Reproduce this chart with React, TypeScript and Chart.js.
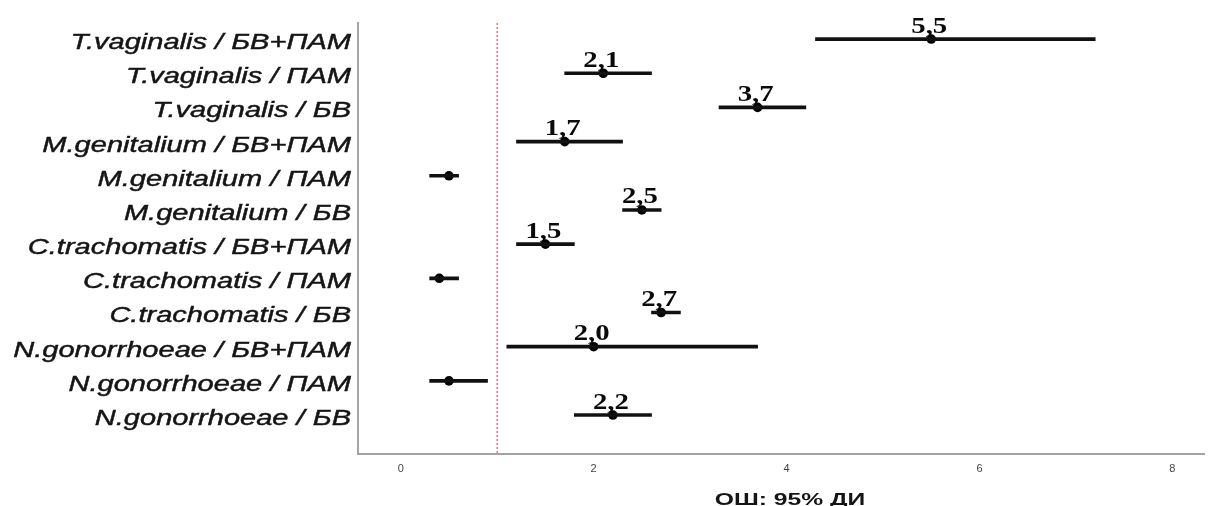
import React, { useEffect, useRef } from 'react';
import { Chart, registerables } from 'chart.js';

Chart.register(...registerables);

const categories = [
  'T.vaginalis / БВ+ПАМ',
  'T.vaginalis / ПАМ',
  'T.vaginalis / БВ',
  'M.genitalium / БВ+ПАМ',
  'M.genitalium / ПАМ',
  'M.genitalium / БВ',
  'C.trachomatis / БВ+ПАМ',
  'C.trachomatis / ПАМ',
  'C.trachomatis / БВ',
  'N.gonorrhoeae / БВ+ПАМ',
  'N.gonorrhoeae / ПАМ',
  'N.gonorrhoeae / БВ',
];
const oddsRatios = [5.5, 2.1, 3.7, 1.7, 0.5, 2.5, 1.5, 0.4, 2.7, 2.0, 0.5, 2.2];
const ciLow = [4.3, 1.7, 3.3, 1.2, 0.3, 2.3, 1.2, 0.3, 2.6, 1.1, 0.3, 1.8];
const ciHigh = [7.2, 2.6, 4.2, 2.3, 0.6, 2.7, 1.8, 0.6, 2.9, 3.7, 0.9, 2.6];
const valueLabels = ['5,5', '2,1', '3,7', '1,7', '', '2,5', '1,5', '', '2,7', '2,0', '', '2,2'];
const xTicks = [0, 2, 4, 6, 8];
const referenceLine = 1;
const axisTitle = 'ОШ: 95% ДИ';

const forestPlugin = {
  id: 'forestDecor',
  beforeDatasetsDraw(chart: any) {
    const { ctx, chartArea, scales } = chart;
    const x = scales.x.getPixelForValue(referenceLine);
    ctx.save();
    ctx.strokeStyle = 'rgb(248, 88, 102)';
    ctx.lineWidth = 1.3;
    ctx.setLineDash([2, 2]);
    ctx.beginPath();
    ctx.moveTo(x, chartArea.top);
    ctx.lineTo(x, chartArea.bottom);
    ctx.stroke();
    ctx.restore();
  },
  afterDatasetsDraw(chart: any) {
    const { ctx, scales } = chart;
    ctx.save();
    ctx.fillStyle = '#0a0a0a';
    ctx.font = 'bold 23px "Liberation Serif", "Times New Roman", serif';
    ctx.textAlign = 'center';
    ctx.textBaseline = 'alphabetic';
    valueLabels.forEach((lab, i) => {
      if (!lab) return;
      const px = scales.x.getPixelForValue(oddsRatios[i]);
      const py = scales.y.getPixelForValue(i);
      ctx.save();
      ctx.translate(px - 2, py - 6.5);
      ctx.scale(1.25, 1);
      ctx.fillText(lab, 0, 0);
      ctx.restore();
    });
    ctx.restore();
  },
  afterDraw(chart: any) {
    const { ctx, scales } = chart;
    ctx.save();
    ctx.fillStyle = '#151515';
    ctx.strokeStyle = '#151515';
    ctx.lineWidth = 0.45;
    ctx.font = 'italic 22px "Liberation Sans", Arial, sans-serif';
    ctx.textAlign = 'right';
    ctx.textBaseline = 'alphabetic';
    const rightX = scales.y.right - 7;
    categories.forEach((lab, i) => {
      const py = scales.y.getPixelForValue(i);
      ctx.save();
      ctx.translate(rightX, py + 10);
      ctx.scale(1.32, 1);
      ctx.fillText(lab, 0, 0);
      ctx.strokeText(lab, 0, 0);
      ctx.restore();
    });
    ctx.fillStyle = '#151515';
    ctx.font = 'bold 17px "Liberation Sans", Arial, sans-serif';
    ctx.textAlign = 'center';
    ctx.save();
    ctx.translate(790, 505);
    ctx.scale(1.45, 1);
    ctx.fillText(axisTitle, 0, 0);
    ctx.restore();
    ctx.restore();
  },
};

export default function App() {
  const canvasRef = useRef<HTMLCanvasElement | null>(null);

  useEffect(() => {
    const canvas = canvasRef.current;
    if (!canvas) return;
    const chart = new Chart(canvas, {
      type: 'scatter',
      data: {
        datasets: [
          {
            type: 'bar',
            indexAxis: 'y',
            data: categories.map((_, i) => ({ x: [ciLow[i], ciHigh[i]], y: i })) as any,
            backgroundColor: '#111',
            borderWidth: 0,
            barThickness: 3,
            grouped: false,
          } as any,
          {
            type: 'scatter',
            data: categories.map((_, i) => ({ x: oddsRatios[i], y: i })),
            backgroundColor: '#000',
            borderColor: '#000',
            pointRadius: 4.8,
            pointBorderWidth: 0,
          } as any,
        ],
      },
      options: {
        animation: false,
        responsive: false,
        maintainAspectRatio: false,
        layout: { padding: { top: 23, left: 0, right: 0, bottom: 0 } },
        plugins: {
          legend: { display: false },
          tooltip: { enabled: false },
        },
        scales: {
          x: {
            type: 'linear',
            min: -0.443,
            max: 8.33,
            offset: false,
            grid: { display: false, drawTicks: false },
            border: { display: true, color: '#a3a3a3', width: 2 },
            afterBuildTicks: (scale: any) => {
              scale.ticks = xTicks.map((v) => ({ value: v }));
            },
            afterFit: (scale: any) => {
              scale.height = 52;
            },
            ticks: {
              color: '#444',
              padding: 8,
              font: { family: '"Liberation Sans", Arial, sans-serif', size: 11 },
              callback: (v: any) => String(v),
            },
          },
          y: {
            type: 'linear',
            reverse: true,
            min: -0.47,
            max: 12.14,
            offset: false,
            grid: { display: false, drawTicks: false },
            border: { display: true, color: '#a3a3a3', width: 2 },
            ticks: { display: false },
            afterFit: (scale: any) => {
              scale.width = 358;
            },
          },
        },
      } as any,
      plugins: [forestPlugin],
    });
    return () => chart.destroy();
  }, []);

  return (
    <div style={{ position: 'fixed', left: 0, top: 0, width: 1209, height: 506, background: '#fff' }}>
      <canvas ref={canvasRef} width={1209} height={506} style={{ display: 'block' }} />
    </div>
  );
}
